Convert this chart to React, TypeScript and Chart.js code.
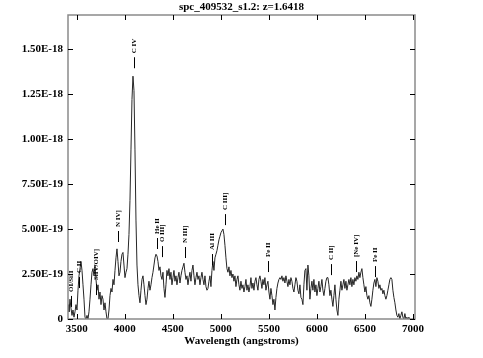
import { useEffect, useRef } from "react";
import { Chart, registerables } from "chart.js";
Chart.register(...registerables);

const TITLE = "spc_409532_s1.2: z=1.6418";
const X_TITLE = "Wavelength (angstroms)";

// spectral sampling (CRVAL1 / CDELT1)
const lambdaStart = 3410;
const lambdaStep = 10.4;

// flux in units of 1e-19 erg/s/cm^2/A, one value per sample
const fluxE19 = [
  0.8, 0.4, 1.1, 0.6, 0.2, 0.5, 0.1, 0.4, 0.8, 0.5,
  1.6, 2.4, 2.8, 3.2, 2.7, 1.9, 1.1, 0.1, 0.0, 0.2,
  0.0, 0.4, 1.1, 1.9, 2.6, 2.8, 2.4, 3.0, 2.2, 1.6,
  1.9, 1.1, 1.5, 0.8, 1.3, 1.1, 0.5, 0.9, 0.4, 0.0,
  0.0, 0.5, 1.3, 1.7, 1.5, 2.2, 1.9, 2.7, 3.4, 3.9,
  3.2, 2.4, 2.6, 3.2, 3.6, 3.7, 3.0, 2.3, 2.6, 2.8,
  3.6, 4.7, 6.6, 9.4, 12.2, 13.5, 12.7, 9.4, 5.5, 3.0,
  1.9, 1.3, 0.9, 1.6, 2.2, 2.4, 1.9, 1.3, 0.8, 1.1,
  1.7, 2.1, 1.6, 1.9, 2.3, 2.6, 3.0, 3.4, 3.6, 3.5,
  3.2, 2.7, 2.9, 2.4, 2.2, 2.6, 1.7, 1.2, 1.9, 2.7,
  2.4, 2.8, 2.2, 2.6, 1.9, 2.3, 2.7, 2.1, 2.4, 1.9,
  2.3, 2.6, 2.0, 2.4, 2.7, 2.9, 3.1, 2.6, 2.2, 2.4,
  1.9, 2.3, 2.6, 2.1, 2.7, 3.0, 2.4, 1.9, 2.3, 2.6,
  2.2, 2.4, 1.9, 2.3, 2.6, 2.2, 1.9, 2.4, 1.8, 1.6,
  1.7, 2.1, 2.4, 1.8, 2.7, 3.2, 2.7, 3.4, 3.6, 3.8,
  4.1, 4.4, 4.6, 4.8, 4.9, 5.0, 4.7, 4.1, 3.4, 2.8,
  2.6, 2.9, 2.4, 2.7, 2.3, 2.5, 2.1, 2.4, 1.8, 2.2,
  2.4, 1.9, 1.6, 2.1, 1.7, 1.9, 1.5, 1.8, 2.2, 1.6,
  1.9, 1.5, 1.8, 2.3, 1.7, 2.0, 1.6, 2.1, 2.3, 1.9,
  1.6, 2.2, 2.4, 2.1, 1.7, 2.2, 1.9, 2.3, 1.6, 1.9,
  2.1, 1.5, 1.1, 1.7, 1.3, 0.8, 1.1, 0.5, 1.2, 1.7,
  2.0, 2.2, 2.3, 2.2, 2.4, 2.1, 2.3, 2.0, 2.4, 2.1,
  1.8, 2.2, 1.9, 2.3, 2.1, 1.7, 1.5, 1.9, 2.3, 2.1,
  1.6, 1.4, 1.9, 1.2, 1.1, 0.8, 1.9, 2.7, 2.8, 1.6,
  3.0, 2.4, 1.1, 1.7, 2.1, 1.6, 2.2, 1.5, 1.9, 1.3,
  1.7, 2.1, 1.5, 1.8, 2.2, 1.6, 1.3, 1.7, 2.1, 2.3,
  2.3, 1.9, 1.3, 1.6, 1.1, 0.7, 1.3, 1.9, 1.1, 0.5,
  0.2, 1.1, 1.6, 2.1, 1.6, 1.9, 2.2, 1.7, 2.1, 1.6,
  1.9, 2.2, 1.9, 2.3, 1.8, 2.2, 1.9, 2.3, 2.1, 2.4,
  2.2, 2.6, 2.3, 2.6, 2.8, 2.3, 1.9, 1.5, 1.8, 1.3,
  1.1, 1.3, 0.9, 0.7, 1.1, 1.6, 2.0, 2.2, 1.8, 2.3,
  2.1, 1.7, 1.9, 1.6, 1.7, 1.4, 1.6, 1.3, 1.1, 1.3,
  1.6, 1.9, 2.2, 2.3, 2.2, 1.6, 1.2, 0.9, 0.5, 0.2,
  0.1, 0.3, 0.0, 0.2, 0.4, 0.1, 0.0, 0.3, 0.0, 0.1,
  0.0, 0.1, 0.0,
];

const xTicks = [3500, 4000, 4500, 5000, 5500, 6000, 6500, 7000];
const yTicks = [0, 2.5e-19, 5e-19, 7.5e-19, 1e-18, 1.25e-18, 1.5e-18];

// emission-line identifications (observed wavelength, flux level of tick base in 1e-19)
const lineNames = ["OI/SiII", "C II", "SiIV/OIV]", "N IV]", "C IV", "He II", "O III]", "N III]", "Al III", "C III]", "Fe II", "C II]", "[Ne IV]", "Fe II"];
const lineWaves = [3445, 3527, 3698, 3926, 4092, 4333, 4393, 4623, 4906, 5043, 5494, 6145, 6403, 6605];
const lineBaseE19 = [0.67, 1.72, 1.33, 4.28, 13.94, 3.89, 3.44, 3.39, 3.0, 5.22, 2.61, 2.44, 2.61, 2.33];

const FONT = "'Liberation Serif', 'Times New Roman', serif";

export default function App() {
  const ref = useRef<HTMLCanvasElement>(null);
  useEffect(() => {
    const canvas = ref.current!;
    const points = fluxE19.map((f, i) => ({ x: lambdaStart + i * lambdaStep, y: f * 1e-19 }));

    const decor = {
      id: "decor",
      afterDraw(chart: any) {
        const { ctx, chartArea: a, scales } = chart;
        const x = scales.x, y = scales.y;
        ctx.save();
        // title
        ctx.fillStyle = "#000";
        ctx.font = `bold 11px ${FONT}`;
        ctx.textAlign = "center";
        ctx.textBaseline = "middle";
        ctx.fillText(TITLE, (a.left + a.right) / 2, 7.5);
        // frame
        ctx.strokeStyle = "#8a8a8a";
        ctx.lineWidth = 1.5;
        ctx.strokeRect(a.left, a.top, a.right - a.left, a.bottom - a.top);
        // inward ticks
        ctx.strokeStyle = "#000";
        ctx.lineWidth = 1;
        ctx.beginPath();
        xTicks.forEach((v) => {
          const px = Math.round(x.getPixelForValue(v)) + 0.5;
          ctx.moveTo(px, a.bottom); ctx.lineTo(px, a.bottom - 5);
          ctx.moveTo(px, a.top); ctx.lineTo(px, a.top + 5);
        });
        yTicks.forEach((v) => {
          const py = Math.round(y.getPixelForValue(v)) + 0.5;
          ctx.moveTo(a.left, py); ctx.lineTo(a.left + 5, py);
          ctx.moveTo(a.right, py); ctx.lineTo(a.right - 5, py);
        });
        ctx.stroke();
        // line identifications
        ctx.font = `bold 7px ${FONT}`;
        lineNames.forEach((name, i) => {
          const px = Math.round(x.getPixelForValue(lineWaves[i])) + 0.5;
          const py = y.getPixelForValue(lineBaseE19[i] * 1e-19);
          ctx.beginPath();
          ctx.moveTo(px, py);
          ctx.lineTo(px, py - 11);
          ctx.stroke();
          ctx.save();
          ctx.translate(px, py - 15);
          ctx.rotate(-Math.PI / 2);
          ctx.textAlign = "left";
          ctx.textBaseline = "middle";
          ctx.fillText(name, 0, 0);
          ctx.restore();
        });
        ctx.restore();
      },
    };

    const tickFont = { family: FONT, size: 11, weight: "bold" as const };
    const chart = new Chart(canvas, {
      type: "line",
      data: {
        datasets: [
          {
            data: points,
            borderColor: "#262626",
            borderWidth: 1,
            pointRadius: 0,
            tension: 0,
            fill: false,
          },
        ],
      },
      options: {
        animation: false,
        responsive: false,
        maintainAspectRatio: false,
        layout: { padding: { left: 0, right: 68, top: 15, bottom: 0 } },
        plugins: { legend: { display: false }, tooltip: { enabled: false }, title: { display: false } },
        scales: {
          x: {
            type: "linear",
            min: 3410,
            max: 7020,
            grid: { display: false, drawTicks: false },
            border: { display: false },
            ticks: { color: "#000", font: tickFont, padding: 4, maxRotation: 0, autoSkip: false, callback: (v: any) => String(v) },
            afterBuildTicks: (s: any) => { s.ticks = xTicks.map((v) => ({ value: v })); },
            afterFit: (s: any) => { s.height = 39; },
            title: { display: true, text: X_TITLE, color: "#000", font: tickFont, padding: { top: 0, bottom: 10 } },
          },
          y: {
            type: "linear",
            min: 0,
            max: 1.69e-18,
            grid: { display: false, drawTicks: false },
            border: { display: false },
            ticks: {
              color: "#000",
              font: tickFont,
              padding: 5,
              autoSkip: false,
              callback: (v: any) => (Number(v) === 0 ? "0" : Number(v).toExponential(2).toUpperCase()),
            },
            afterBuildTicks: (s: any) => { s.ticks = yTicks.map((v) => ({ value: v })); },
            afterFit: (s: any) => { s.width = 68; },
          },
        },
      },
      plugins: [decor],
    });
    return () => chart.destroy();
  }, []);

  return (
    <div style={{ position: "absolute", left: 0, top: 0, width: 483, height: 358, background: "#fff" }}>
      <canvas ref={ref} width={483} height={358} style={{ display: "block" }} />
    </div>
  );
}
